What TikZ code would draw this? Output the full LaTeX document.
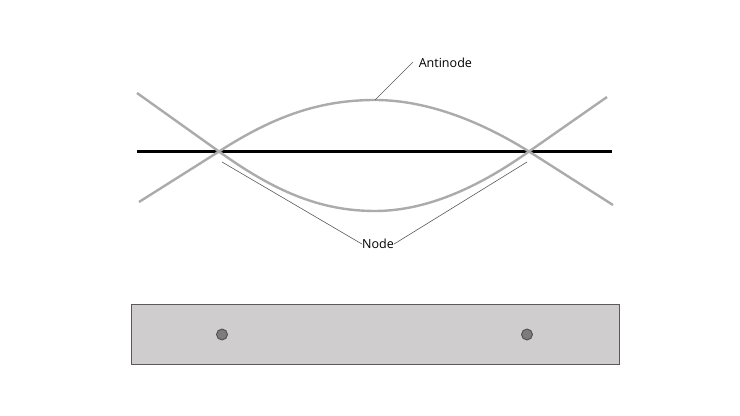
\documentclass[tikz,border=0pt]{standalone}
\usepackage{fontspec}
\setmainfont{Open Sans}
\definecolor{wavegray}{HTML}{ABABAB}
\definecolor{barfill}{HTML}{CFCDCE}
\definecolor{barline}{HTML}{5A5A5A}
\definecolor{holefill}{HTML}{7C7C7C}
\definecolor{holeline}{HTML}{505050}
\begin{document}
\begin{tikzpicture}[
            x=.75pt,y=-.75pt,
            wave/.style={draw=wavegray,line width=1.8pt},
            axis/.style={draw=black,line width=1.7pt},
            leader/.style={draw=black!65,line width=.45pt},
            lab/.style={font=\fontsize{9.4pt}{11pt}\selectfont,inner sep=0pt,text=black},
            bar/.style={draw=barline,line width=.55pt,fill=barfill,rectangle,minimum width=366pt,minimum height=44.5pt,inner sep=0pt},
            hole/.style={draw=holeline,line width=.7pt,fill=holefill,circle,minimum size=8.2pt,inner sep=0pt}
          ]
          \useasboundingbox (0,0) rectangle (740,416);

          %wave ends and crossings
          \coordinate (nl) at (219,151.5);
          \coordinate (nr) at (529,151.5);
          \coordinate (topl) at (139,202);
          \coordinate (topr) at (613,205);
          \coordinate (botl) at (137,93);
          \coordinate (botr) at (607,97);
          \coordinate (axl) at (137,151.5);
          \coordinate (axr) at (612,151.5);
          \coordinate (peak) at (375,100);
          \coordinate (trough) at (375,211);
          \coordinate (ltip) at (222,162);
          \coordinate (rtip) at (527,162);
          \coordinate (atip) at (413,62);

          %axis
          \path[axis] (axl) -- (axr);

          %wave
          \path[wave] (topl) -- (nl) .. controls (274,116) and (320,100) .. (peak)
            .. controls (430,100) and (485,124) .. (nr) -- (topr);
          \path[wave] (botl) -- (nl) .. controls (274,191) and (320,211) .. (trough)
            .. controls (430,211) and (483,184) .. (nr) -- (botr);

          %labels
          \node[lab,anchor=west] (antinode) at (418.5,62.5) {Antinode};
          \node[lab] (node) at (378,244) {Node};
          \path[leader]
          (atip) -- (peak)
          (ltip) -- (node.west)
          (rtip) -- (node.east)
          ;

          %bar
          \node[bar] (rail) at (375,334.5) {};
          \node[hole] (h1) at (222,334.5) {};
          \node[hole] (h2) at (527,334.5) {};

      \end{tikzpicture}
\end{document}
